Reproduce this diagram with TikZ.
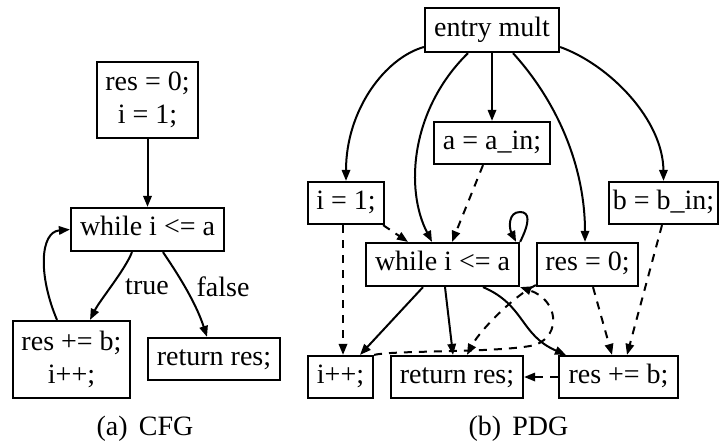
\documentclass[tikz,border=0pt]{standalone}
\usepackage{fontspec}
\setmainfont{Liberation Serif}
\usetikzlibrary{arrows.meta}

\begin{document}
\begin{tikzpicture}[x=0.5pt,y=-0.5pt,
  txt/.style={font=\fontsize{14}{16.7}\selectfont},
  blk/.style={txt, draw, line width=1.1pt, inner sep=0pt, text height=0.8em, text depth=0.2em},
  blktwo/.style={txt, draw, line width=1.1pt, inner sep=0pt, align=center},
  ctrl/.style={line width=1pt, -{Triangle[length=5.5pt,width=4.2pt]}},
  dep/.style={ctrl, dash pattern=on 4pt off 3.5pt}
]
\useasboundingbox (0,0) rectangle (721,445);

% ---------- (a) control flow graph ----------
\node[blktwo, minimum width=50.5pt, minimum height=38pt] (init) at (147.5,100) {res = 0;\\ i = 1;};
\node[blk, minimum width=76.5pt, minimum height=21.5pt] (cwhile) at (147.5,229.5) {while i <= a};
\node[blktwo, minimum width=58.5pt, minimum height=38.5pt] (body) at (71.5,359.5) {res += b;\\ i++;};
\node[blk, minimum width=66pt, minimum height=21pt] (cret) at (214,359) {return res;};

\node[txt] (ltrue) at (147,287) {true};
\node[txt] (lfalse) at (223,287) {false};

\draw[ctrl] (init) -- (cwhile);
\draw[ctrl] ([xshift=-7.75pt]cwhile.south) .. controls (125,270) and (100,300) .. ([xshift=9.25pt]body.north);
\draw[ctrl] ([xshift=7.75pt]cwhile.south) .. controls (175,270) and (195,300) .. ([xshift=-3.5pt]cret.north);
\draw[ctrl] ([xshift=-7.25pt]body.north) .. controls (38,275) and (40,232) .. (cwhile.west);

\node[txt] (capa) at (145,429) {(a)\hspace{0.4em}CFG};

% ---------- (b) program dependence graph ----------
\node[blk, minimum width=67pt, minimum height=22pt] (entry) at (492,30) {entry mult};
\node[blk, minimum width=58pt, minimum height=21pt] (aa) at (492,143) {a = a\_in;};
\node[blk, minimum width=38pt, minimum height=21pt] (i1) at (346,203) {i = 1;};
\node[blk, minimum width=54.5pt, minimum height=21pt] (bb) at (663.5,203) {b = b\_in;};
\node[blk, minimum width=76.5pt, minimum height=21.5pt] (pwhile) at (442.5,264.5) {while i <= a};
\node[blk, minimum width=50.5pt, minimum height=21.5pt] (res0) at (587.5,264.5) {res = 0;};
\node[blk, minimum width=32.5pt, minimum height=21pt] (ipp) at (340.5,377) {i++;};
\node[blk, minimum width=66pt, minimum height=21pt] (pret) at (457,377) {return res;};
\node[blk, minimum width=59.5pt, minimum height=21pt] (resb) at (618.5,377) {res += b;};

% control dependences
\draw[ctrl] ([yshift=-8.5pt]entry.west) .. controls (385,58) and (346,110) .. (i1.north);
\draw[ctrl] (entry) -- (aa);
\draw[ctrl] ([xshift=-12pt]entry.south) .. controls (410,110) and (405,190) .. ([xshift=-5.25pt]pwhile.north);
\draw[ctrl] ([xshift=10.5pt]entry.south) .. controls (560,105) and (585,170) .. ([xshift=-1.25pt]res0.north);
\draw[ctrl] ([yshift=-8.5pt]entry.east) .. controls (610,65) and (663,120) .. (bb.north);
\draw[ctrl] (pwhile.north east) .. controls (530,222) and (530,212) .. (520,212)
  .. controls (508,212) and (509,228) .. ([xshift=-2pt]pwhile.north east);
\draw[ctrl] ([xshift=-9.75pt]pwhile.south) -- ([xshift=9.75pt]ipp.north);
\draw[ctrl] ([xshift=1.25pt]pwhile.south) -- ([xshift=-2pt]pret.north);
\draw[ctrl] ([xshift=20.25pt]pwhile.south) .. controls (525,305) and (520,335) .. ([xshift=4pt]resb.north west);

% data dependences
\draw[dep] ([xshift=-4.5pt]aa.south) -- ([xshift=4.75pt]pwhile.north);
\draw[dep] ([xshift=-1pt]i1.south east) -- ([xshift=-17.25pt]pwhile.north);
\draw[dep] ([xshift=-1.5pt]i1.south) -- ([xshift=1.25pt]ipp.north);
\draw[dep] ([xshift=2.75pt]res0.south) -- ([xshift=-3.25pt]resb.north);
\draw[dep] ([xshift=-0.75pt]bb.south) -- ([xshift=4.25pt]resb.north);
\draw[dep] (resb.west) -- (pret.east);
\draw[dep] ([yshift=1pt]res0.south west) .. controls (515,295) and (480,330) .. ([xshift=5pt]pret.north);
\draw[dep] (ipp.north east) .. controls (395,350) and (500,353) .. (535,345)
  .. controls (562,335) and (558,300) .. (pwhile.south east);

\node[txt] (capb) at (518.5,429) {(b)\hspace{0.4em}PDG};
\end{tikzpicture}
\end{document}
